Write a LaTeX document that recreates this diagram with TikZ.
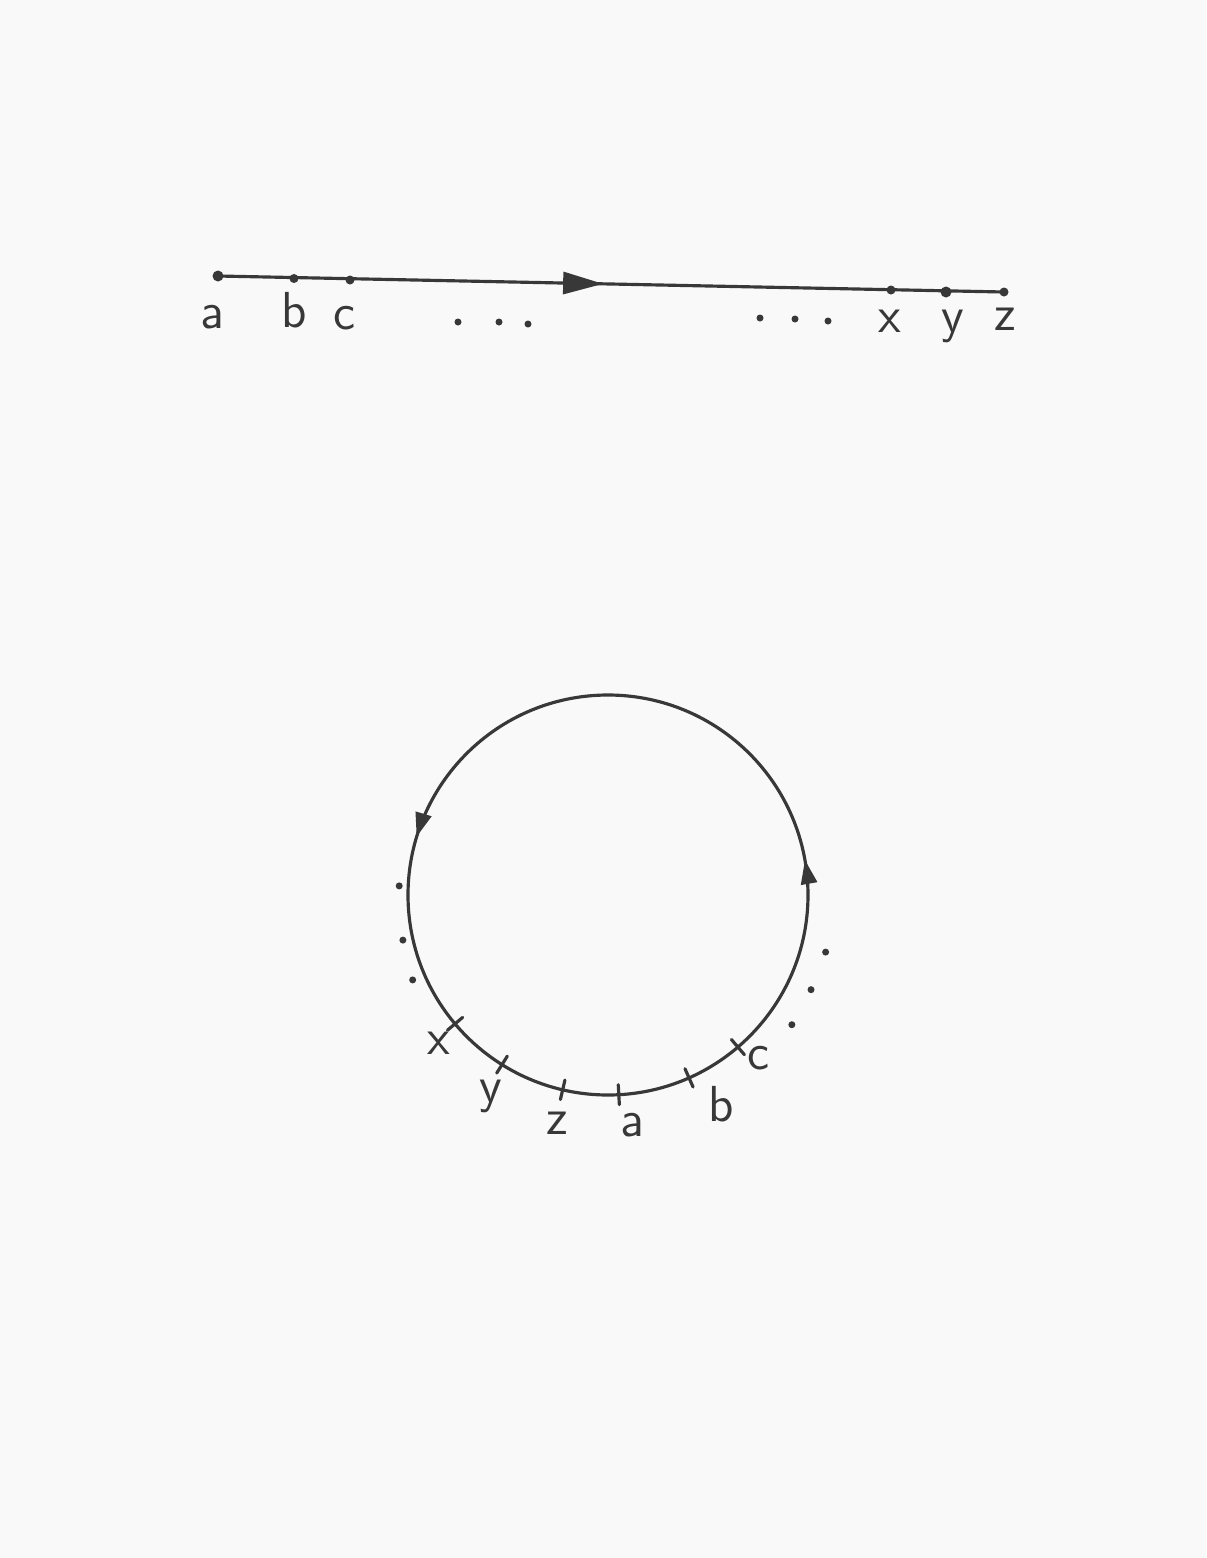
\documentclass[tikz,border=0pt]{standalone}
\usetikzlibrary{calc,arrows.meta,decorations.markings}
\definecolor{paper}{gray}{0.975}
\definecolor{ink}{gray}{0.22}

\begin{document}
\begin{tikzpicture}[line width=0.9pt, line cap=round, draw=ink, fill=ink,
    lbl/.style={font=\sffamily\Large, text=ink, inner sep=0pt},
    midarrow/.style={postaction=decorate, decoration={markings,
        mark=at position #1 with {\arrow[ink]{Triangle[length=4mm,width=2.2mm]}}}},
    ringarrows/.style={postaction=decorate, decoration={markings,
        mark=at position 0.028 with {\arrow[ink]{Triangle[length=2.4mm,width=1.6mm]}},
        mark=at position 0.453 with {\arrow[ink]{Triangle[length=2.4mm,width=1.6mm]}}}}]
    \useasboundingbox[fill=paper] (0,0) rectangle (12.06,-15.58);
    % the line
    \coordinate (a) at (2.18,-2.76);
    \coordinate (b) at (2.94,-2.785);
    \coordinate (c) at (3.50,-2.80);
    \coordinate (x) at (8.91,-2.90);
    \coordinate (y) at (9.46,-2.92);
    \coordinate (z) at (10.04,-2.92);
    \draw [midarrow=0.49] (a)--(z);
    \fill (a) circle (0.055);
    \foreach \p in {b,c,x,z} \fill (\p) circle (0.045);
    \fill (y) circle (0.055);
    \node[lbl, anchor=base] (la) at (2.12,-3.28) {a};
    \node[lbl, anchor=base] (lb) at (2.94,-3.27) {b};
    \node[lbl, anchor=base] (lc) at (3.45,-3.29) {c};
    \node[lbl, anchor=base] (lx) at (8.90,-3.32) {x};
    \node[lbl, anchor=base] (ly) at (9.53,-3.32) {y};
    \node[lbl, anchor=base] (lz) at (10.05,-3.30) {z};
    \foreach \px/\py in {4.58/3.22,4.99/3.22,5.28/3.24,7.60/3.18,7.95/3.19,8.28/3.21}
        \fill (\px,-\py) circle (0.035);
    % the circle
    \pgfmathsetmacro{\R}{2}
    \coordinate (o) at (6.08,-8.95);
    \draw [ringarrows] (o) circle (\R);
    \foreach \t in {-139.9,-122,-103.1,-86.9,-66.1,-49.5}
        \draw ($(o)+(\t:\R-0.1)$) -- ($(o)+(\t:\R+0.1)$);
    \foreach \t/\r/\n in {-138.7/2.25/x,-120.3/2.33/y,-102.6/2.34/z,-84/2.31/a,-61.6/2.38/b,-47.4/2.22/c}
        \node[lbl] (r\n) at ($(o)+(\t:\r)$) {\n};
    \foreach \t/\r in {177.5/2.09,192.4/2.10,203.5/2.13,-14.7/2.25,-25/2.24,-35.2/2.25}
        \fill ($(o)+(\t:\r)$) circle (0.035);
\end{tikzpicture}
\end{document}
